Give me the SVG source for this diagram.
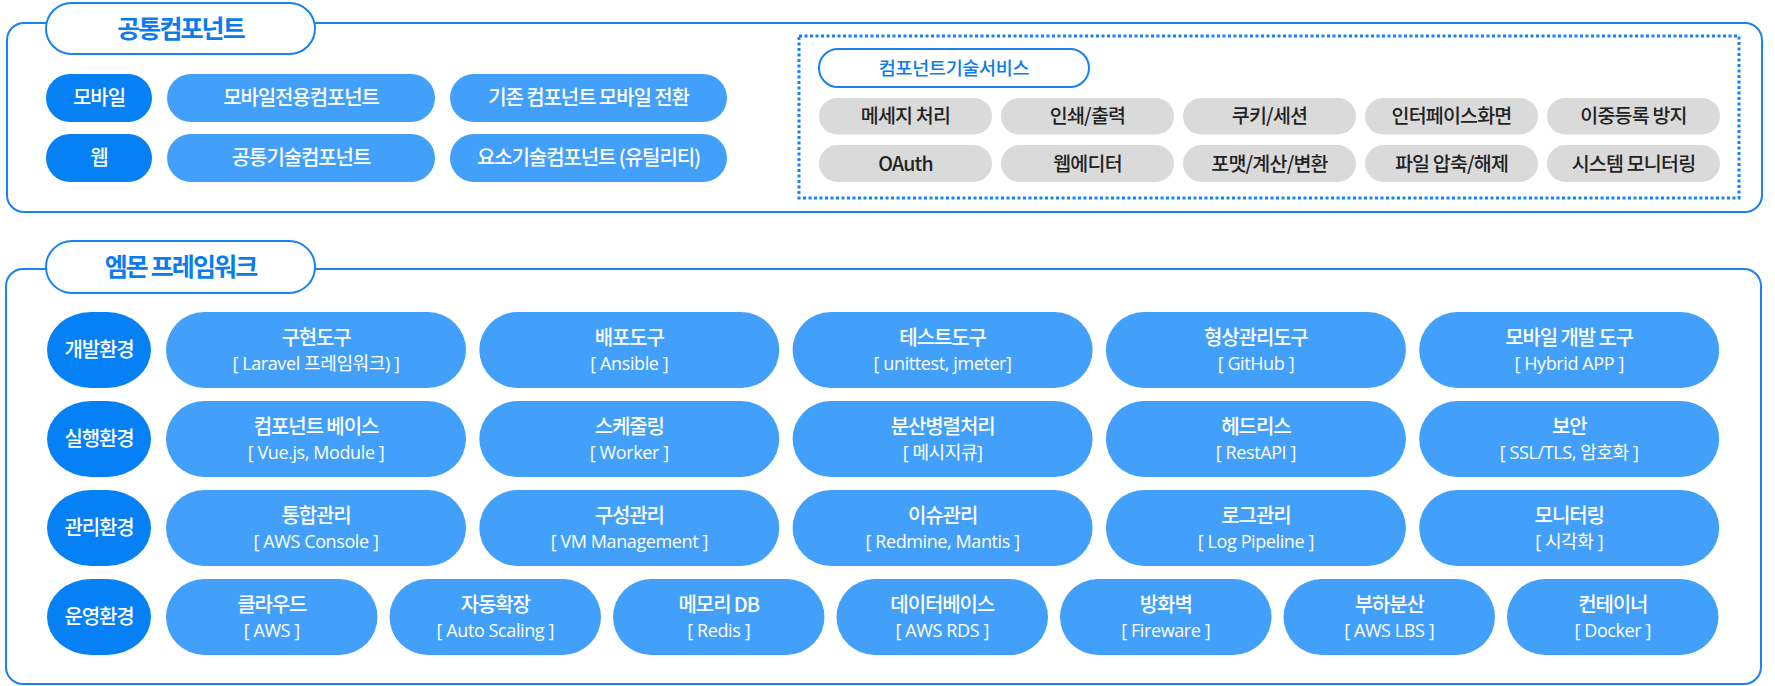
<svg xmlns="http://www.w3.org/2000/svg" width="1775" height="686" viewBox="0 0 1775 686">
<style>
.box{fill:none;stroke:#1782f2;stroke-width:2}
.tp{fill:#fff;stroke:#1782f2;stroke-width:2}
.dot{fill:none;stroke:#1782f2;stroke-width:3;stroke-dasharray:3 2.5}
.dk{fill:#0580f5}
.lt{fill:#43a0fa}
.gr{fill:#dadada}
text{font-family:"Noto Sans CJK KR","Noto Sans",sans-serif;text-anchor:middle}
.title{font-size:25px;font-weight:700;fill:#0a7cf0;letter-spacing:-1.9px}
.sub{font-size:18.5px;font-weight:500;fill:#0a7cf0;letter-spacing:-0.3px}
.w{font-size:20px;font-weight:500;fill:#fff;letter-spacing:-1.1px}
.w2{font-family:"Open Sans","Noto Sans CJK KR",sans-serif;font-size:18px;font-weight:400;fill:#fff;letter-spacing:-0.4px}
.g{font-size:19.5px;font-weight:500;fill:#222;letter-spacing:-0.8px}
</style>
<g id="connectors"/>
<g id="section-common">
<rect class="box" x="7" y="23" width="1755" height="189" rx="17"/>
<rect class="tp" x="46" y="3" width="269" height="51" rx="25.5"/>
<text class="title" x="180.5" y="38">공통컴포넌트</text>
</g>
<g id="n-mobile"><rect class="dk" x="46" y="74" width="106" height="48" rx="24"/><text class="w" x="99" y="105">모바일</text></g>
<g id="n-mobile-comp"><rect class="lt" x="167" y="74" width="268" height="48" rx="24"/><text class="w" x="301" y="105">모바일전용컴포넌트</text></g>
<g id="n-mobile-conv"><rect class="lt" x="450" y="74" width="277" height="48" rx="24"/><text class="w" x="588.5" y="105">기존 컴포넌트 모바일 전환</text></g>
<g id="n-web"><rect class="dk" x="46" y="134" width="106" height="48" rx="24"/><text class="w" x="99" y="165">웹</text></g>
<g id="n-web-comp"><rect class="lt" x="167" y="134" width="268" height="48" rx="24"/><text class="w" x="301" y="165">공통기술컴포넌트</text></g>
<g id="n-util"><rect class="lt" x="450" y="134" width="277" height="48" rx="24"/><text class="w" x="588.5" y="165">요소기술컴포넌트 (유틸리티)</text></g>
<g id="svc-group">
<rect class="dot" x="799" y="36" width="940" height="162"/>
<rect class="tp" x="819" y="49" width="270" height="38" rx="19"/>
<text class="sub" x="954" y="74.5">컴포넌트기술서비스</text>
</g>
<g id="s1"><rect class="gr" x="819" y="98" width="173" height="36.5" rx="18.25"/><text class="g" x="905.5" y="123">메세지 처리</text></g>
<g id="s2"><rect class="gr" x="1001" y="98" width="173" height="36.5" rx="18.25"/><text class="g" x="1087.5" y="123">인쇄/출력</text></g>
<g id="s3"><rect class="gr" x="1183" y="98" width="173" height="36.5" rx="18.25"/><text class="g" x="1269.5" y="123">쿠키/세션</text></g>
<g id="s4"><rect class="gr" x="1365" y="98" width="173" height="36.5" rx="18.25"/><text class="g" x="1451.5" y="123">인터페이스화면</text></g>
<g id="s5"><rect class="gr" x="1547" y="98" width="173" height="36.5" rx="18.25"/><text class="g" x="1633.5" y="123">이중등록 방지</text></g>
<g id="s6"><rect class="gr" x="819" y="145" width="173" height="37" rx="18.5"/><text class="g" x="905.5" y="170.5">OAuth</text></g>
<g id="s7"><rect class="gr" x="1001" y="145" width="173" height="37" rx="18.5"/><text class="g" x="1087.5" y="170.5">웹에디터</text></g>
<g id="s8"><rect class="gr" x="1183" y="145" width="173" height="37" rx="18.5"/><text class="g" x="1269.5" y="170.5">포맷/계산/변환</text></g>
<g id="s9"><rect class="gr" x="1365" y="145" width="173" height="37" rx="18.5"/><text class="g" x="1451.5" y="170.5">파일 압축/해제</text></g>
<g id="s10"><rect class="gr" x="1547" y="145" width="173" height="37" rx="18.5"/><text class="g" x="1633.5" y="170.5">시스템 모니터링</text></g>

<g id="section-framework">
<rect class="box" x="6" y="269" width="1755" height="415" rx="17"/>
<rect class="tp" x="46" y="241" width="269" height="52" rx="26"/>
<text class="title" x="180.5" y="276">엠몬 프레임워크</text>
</g>

<g id="env-dev"><rect class="dk" x="47" y="312" width="104" height="76" rx="44" ry="38"/><text class="w" x="99" y="357">개발환경</text></g>
<g id="env-run"><rect class="dk" x="47" y="401" width="104" height="76" rx="44" ry="38"/><text class="w" x="99" y="446">실행환경</text></g>
<g id="env-mgmt"><rect class="dk" x="47" y="490" width="104" height="76" rx="44" ry="38"/><text class="w" x="99" y="535">관리환경</text></g>
<g id="env-ops"><rect class="dk" x="47" y="579" width="104" height="76" rx="44" ry="38"/><text class="w" x="99" y="624">운영환경</text></g>

<g id="d1"><rect class="lt" x="166" y="312" width="300" height="76" rx="38"/><text class="w" x="316" y="345">구현도구</text><text class="w2" x="316" y="370">[ Laravel 프레임워크) ]</text></g>
<g id="d2"><rect class="lt" x="479.3" y="312" width="300" height="76" rx="38"/><text class="w" x="629.3" y="345">배포도구</text><text class="w2" x="629.3" y="370">[ Ansible ]</text></g>
<g id="d3"><rect class="lt" x="792.6" y="312" width="300" height="76" rx="38"/><text class="w" x="942.6" y="345">테스트도구</text><text class="w2" x="942.6" y="370">[ unittest, jmeter]</text></g>
<g id="d4"><rect class="lt" x="1105.9" y="312" width="300" height="76" rx="38"/><text class="w" x="1255.9" y="345">형상관리도구</text><text class="w2" x="1255.9" y="370">[ GitHub ]</text></g>
<g id="d5"><rect class="lt" x="1419.2" y="312" width="300" height="76" rx="38"/><text class="w" x="1569.2" y="345">모바일 개발 도구</text><text class="w2" x="1569.2" y="370">[ Hybrid APP ]</text></g>

<g id="r1"><rect class="lt" x="166" y="401" width="300" height="76" rx="38"/><text class="w" x="316" y="434">컴포넌트 베이스</text><text class="w2" x="316" y="459">[ Vue.js, Module ]</text></g>
<g id="r2"><rect class="lt" x="479.3" y="401" width="300" height="76" rx="38"/><text class="w" x="629.3" y="434">스케줄링</text><text class="w2" x="629.3" y="459">[ Worker ]</text></g>
<g id="r3"><rect class="lt" x="792.6" y="401" width="300" height="76" rx="38"/><text class="w" x="942.6" y="434">분산병렬처리</text><text class="w2" x="942.6" y="459">[ 메시지큐]</text></g>
<g id="r4"><rect class="lt" x="1105.9" y="401" width="300" height="76" rx="38"/><text class="w" x="1255.9" y="434">헤드리스</text><text class="w2" x="1255.9" y="459">[ RestAPI ]</text></g>
<g id="r5"><rect class="lt" x="1419.2" y="401" width="300" height="76" rx="38"/><text class="w" x="1569.2" y="434">보안</text><text class="w2" x="1569.2" y="459">[ SSL/TLS, 암호화 ]</text></g>

<g id="m1"><rect class="lt" x="166" y="490" width="300" height="76" rx="38"/><text class="w" x="316" y="523">통합관리</text><text class="w2" x="316" y="548">[ AWS Console ]</text></g>
<g id="m2"><rect class="lt" x="479.3" y="490" width="300" height="76" rx="38"/><text class="w" x="629.3" y="523">구성관리</text><text class="w2" x="629.3" y="548">[ VM Management ]</text></g>
<g id="m3"><rect class="lt" x="792.6" y="490" width="300" height="76" rx="38"/><text class="w" x="942.6" y="523">이슈관리</text><text class="w2" x="942.6" y="548">[ Redmine, Mantis ]</text></g>
<g id="m4"><rect class="lt" x="1105.9" y="490" width="300" height="76" rx="38"/><text class="w" x="1255.9" y="523">로그관리</text><text class="w2" x="1255.9" y="548">[ Log Pipeline ]</text></g>
<g id="m5"><rect class="lt" x="1419.2" y="490" width="300" height="76" rx="38"/><text class="w" x="1569.2" y="523">모니터링</text><text class="w2" x="1569.2" y="548">[ 시각화 ]</text></g>

<g id="o1"><rect class="lt" x="166" y="579" width="211.5" height="76" rx="38"/><text class="w" x="271.75" y="612">클라우드</text><text class="w2" x="271.75" y="637">[ AWS ]</text></g>
<g id="o2"><rect class="lt" x="389.5" y="579" width="211.5" height="76" rx="38"/><text class="w" x="495.25" y="612">자동확장</text><text class="w2" x="495.25" y="637">[ Auto Scaling ]</text></g>
<g id="o3"><rect class="lt" x="613" y="579" width="211.5" height="76" rx="38"/><text class="w" x="718.75" y="612">메모리 DB</text><text class="w2" x="718.75" y="637">[ Redis ]</text></g>
<g id="o4"><rect class="lt" x="836.5" y="579" width="211.5" height="76" rx="38"/><text class="w" x="942.25" y="612">데이터베이스</text><text class="w2" x="942.25" y="637">[ AWS RDS ]</text></g>
<g id="o5"><rect class="lt" x="1060" y="579" width="211.5" height="76" rx="38"/><text class="w" x="1165.75" y="612">방화벽</text><text class="w2" x="1165.75" y="637">[ Fireware ]</text></g>
<g id="o6"><rect class="lt" x="1283.5" y="579" width="211.5" height="76" rx="38"/><text class="w" x="1389.25" y="612">부하분산</text><text class="w2" x="1389.25" y="637">[ AWS LBS ]</text></g>
<g id="o7"><rect class="lt" x="1507" y="579" width="211.5" height="76" rx="38"/><text class="w" x="1612.75" y="612">컨테이너</text><text class="w2" x="1612.75" y="637">[ Docker ]</text></g>
</svg>
